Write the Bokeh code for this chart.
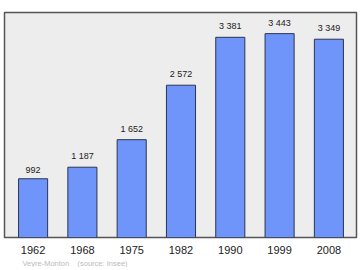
from bokeh.plotting import figure
from bokeh.models import ColumnDataSource, FixedTicker, Range1d, Title
from bokeh.core.properties import value
from bokeh.embed import file_html
from bokeh.resources import INLINE

years = ["1962", "1968", "1975", "1982", "1990", "1999", "2008"]
population = [992, 1187, 1652, 2572, 3381, 3443, 3349]
labels = ["992", "1 187", "1 652", "2 572", "3 381", "3 443", "3 349"]

xs = list(range(len(years)))
src = ColumnDataSource(dict(x=xs, top=population, lab=labels))

FONT = "Liberation Sans"

p = figure(width=360, height=267, output_backend="svg", toolbar_location=None,
           x_range=Range1d(-0.58, 6.56), y_range=Range1d(0, 3800),
           min_border_left=4, min_border_right=4, min_border_top=12, min_border_bottom=0)
p.background_fill_color = "#ededed"
p.border_fill_color = "white"
p.outline_line_color = "#555555"
p.outline_line_width = 1.5
p.grid.visible = False
p.yaxis.visible = False

p.vbar(x="x", top="top", width=0.59, bottom=0, source=src,
       fill_color="#6f95fb", line_color="#2a3550", line_width=1)
p.text(x="x", y="top", text="lab", source=src, y_offset=-6,
       text_align="center", text_baseline="bottom", text_font_size="9px",
       text_color="#222222", text_font=value(FONT))

p.xaxis.ticker = FixedTicker(ticks=xs)
p.xaxis.major_label_overrides = {i: y for i, y in enumerate(years)}
p.xaxis.axis_line_color = None
p.xaxis.major_tick_line_color = None
p.xaxis.minor_tick_line_color = None
p.xaxis.major_label_text_font = FONT
p.xaxis.major_label_text_font_size = "11px"
p.xaxis.major_label_text_color = "#222222"
p.xaxis.major_label_standoff = 2

t = Title(text="Veyre-Monton\u00a0\u00a0\u00a0\u00a0(source: Insee)", text_font_size="7.5px",
          text_color="#bbbbbb", text_font=FONT, text_font_style="normal",
          align="left", offset=18, standoff=0)
p.add_layout(t, "below")

open("out.html", "w").write(file_html(p, INLINE))
